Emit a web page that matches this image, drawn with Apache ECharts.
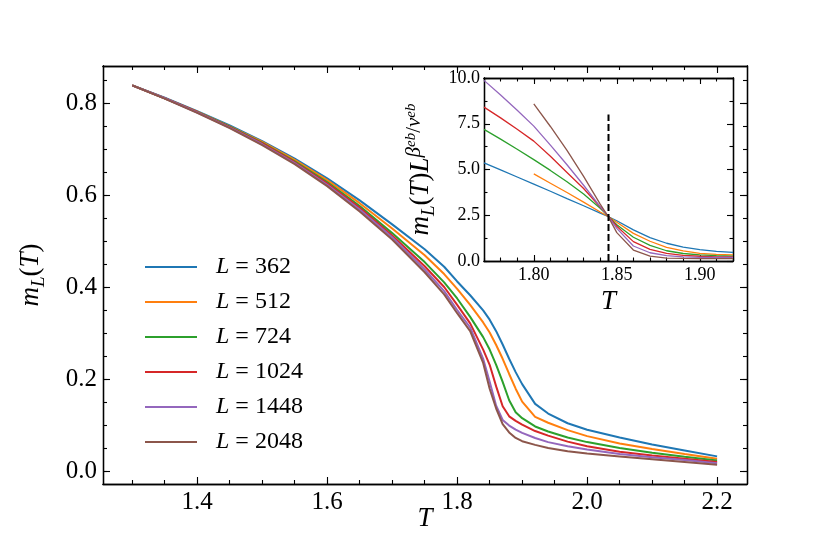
<!DOCTYPE html>
<html>
<head>
<meta charset="utf-8">
<script src="https://cdn.jsdelivr.net/npm/echarts@6/dist/echarts.min.js"></script>
<style>
html, body { margin: 0; padding: 0; background: #fff; }
#main { width: 830px; height: 554px; }
</style>
</head>
<body>
<div id="main"></div>
<script>
// main panel: m_L(T) for each lattice size
var temps = [1.30, 1.35, 1.40, 1.45, 1.50, 1.55, 1.60, 1.65, 1.70, 1.75, 1.78, 1.80, 1.82, 1.84,
             1.85, 1.86, 1.87, 1.88, 1.89, 1.90, 1.92, 1.94, 1.97, 2.00, 2.05, 2.10, 2.15, 2.20];
var m362  = [0.839, 0.812, 0.783, 0.752, 0.718, 0.680, 0.637, 0.589, 0.537, 0.483, 0.445, 0.413, 0.383, 0.350,
             0.330, 0.305, 0.276, 0.245, 0.216, 0.190, 0.147, 0.126, 0.105, 0.091, 0.074, 0.059, 0.046, 0.033];
var m512  = [0.839, 0.811, 0.782, 0.750, 0.716, 0.677, 0.633, 0.583, 0.528, 0.470, 0.429, 0.397, 0.362, 0.324,
             0.302, 0.275, 0.245, 0.212, 0.180, 0.152, 0.119, 0.106, 0.090, 0.077, 0.061, 0.049, 0.038, 0.028];
var m724  = [0.839, 0.811, 0.781, 0.749, 0.714, 0.674, 0.629, 0.577, 0.518, 0.455, 0.411, 0.376, 0.336, 0.292,
             0.265, 0.232, 0.195, 0.155, 0.129, 0.116, 0.098, 0.087, 0.074, 0.064, 0.051, 0.041, 0.032, 0.024];
var m1024 = [0.839, 0.811, 0.781, 0.748, 0.713, 0.672, 0.626, 0.573, 0.513, 0.446, 0.401, 0.362, 0.322, 0.265,
             0.232, 0.185, 0.142, 0.120, 0.110, 0.102, 0.088, 0.078, 0.065, 0.055, 0.043, 0.035, 0.028, 0.021];
var m1448 = [0.839, 0.811, 0.780, 0.747, 0.711, 0.670, 0.623, 0.569, 0.509, 0.439, 0.392, 0.351, 0.313, 0.245,
             0.195, 0.143, 0.112, 0.100, 0.091, 0.084, 0.073, 0.064, 0.055, 0.048, 0.038, 0.031, 0.025, 0.018];
var m2048 = [0.839, 0.810, 0.779, 0.746, 0.709, 0.668, 0.620, 0.565, 0.504, 0.433, 0.385, 0.344, 0.305, 0.236,
             0.180, 0.137, 0.103, 0.085, 0.073, 0.066, 0.058, 0.051, 0.044, 0.039, 0.033, 0.027, 0.021, 0.015];

// inset: scaled magnetisation near the crossing
var insetT = [1.77, 1.78, 1.79, 1.80, 1.81, 1.82, 1.83, 1.84, 1.845, 1.85, 1.86, 1.87, 1.88, 1.89, 1.90, 1.91, 1.92];
var s362  = [5.36, 4.98, 4.59, 4.20, 3.81, 3.41, 3.02, 2.62, 2.42, 2.20, 1.70, 1.28, 0.97, 0.76, 0.62, 0.53, 0.47];
var s512  = [null, null, null, 4.76, 4.25, 3.74, 3.22, 2.68, 2.42, 2.12, 1.51, 1.08, 0.75, 0.55, 0.42, 0.36, 0.33];
var s724  = [7.19, 6.66, 6.11, 5.54, 4.95, 4.33, 3.66, 2.88, 2.43, 1.98, 1.30, 0.85, 0.56, 0.41, 0.33, 0.29, 0.27];
var s1024 = [8.41, 7.82, 7.20, 6.55, 5.72, 4.84, 3.96, 2.95, 2.43, 1.90, 1.06, 0.64, 0.42, 0.31, 0.26, 0.23, 0.22];
var s1448 = [9.87, 9.07, 8.24, 7.37, 6.33, 5.26, 4.14, 2.97, 2.43, 1.78, 0.82, 0.45, 0.29, 0.23, 0.20, 0.20, 0.19];
var s2048 = [null, null, null, 8.59, 7.35, 6.04, 4.62, 3.11, 2.40, 1.55, 0.60, 0.27, 0.16, 0.14, 0.13, 0.13, 0.13];
var tcT = 1.845;
var tcRange = [0, 8];

var sizes = ['362', '512', '724', '1024', '1448', '2048'];
var mainVals = [m362, m512, m724, m1024, m1448, m2048];
var insetVals = [s362, s512, s724, s1024, s1448, s2048];
var colors = ['#1f77b4', '#ff7f0e', '#2ca02c', '#d62728', '#9467bd', '#8c564b'];

// tick positions
var mainXMajor = [1.4, 1.6, 1.8, 2.0, 2.2];
var mainXMinor = [1.3, 1.35, 1.4, 1.45, 1.5, 1.55, 1.6, 1.65, 1.7, 1.75, 1.8, 1.85, 1.9, 1.95, 2.0, 2.05, 2.1, 2.15, 2.2];
var mainYMajor = [0.0, 0.2, 0.4, 0.6, 0.8];
var mainYMinor = [0, 0.05, 0.1, 0.15, 0.2, 0.25, 0.3, 0.35, 0.4, 0.45, 0.5, 0.55, 0.6, 0.65, 0.7, 0.75, 0.8, 0.85];
var insetXMajor = [1.80, 1.85, 1.90];
var insetXMinor = [1.77, 1.78, 1.79, 1.80, 1.81, 1.82, 1.83, 1.84, 1.85, 1.86, 1.87, 1.88, 1.89, 1.90, 1.91, 1.92];
var insetYMajor = [0, 2.5, 5, 7.5, 10];
var insetYMinor = [0, 1.25, 2.5, 3.75, 5, 6.25, 7.5, 8.75, 10];

var SERIF = "'Liberation Serif', 'DejaVu Serif', serif";

function axis(o) {
    return {
        type: 'value', gridIndex: o.grid, position: o.pos, min: o.min, max: o.max,
        axisLine: { show: true, onZero: false, lineStyle: { color: '#000', width: 1.3 } },
        axisTick: { show: true, inside: true, length: o.len, customValues: o.ticks,
                    lineStyle: { color: '#000', width: 1.1 } },
        axisLabel: o.fs ? { show: true, customValues: o.ticks, margin: o.margin, color: '#000',
                            fontFamily: SERIF, fontSize: o.fs,
                            formatter: function (v) { return v.toFixed(o.dec); } }
                        : { show: false },
        splitLine: { show: false },
        minorTick: { show: false },
        name: o.name || '', nameLocation: 'middle', nameGap: o.gap || 0, nameMoveOverlap: false,
        nameTextStyle: o.nameStyle || {}
    };
}

var labelRich = {
    i:  { fontFamily: SERIF, fontStyle: 'italic', fontSize: 27, lineHeight: 34, verticalAlign: 'middle', color: '#000' },
    n:  { fontFamily: SERIF, fontSize: 27, lineHeight: 34, verticalAlign: 'middle', color: '#000' },
    s:  { fontFamily: SERIF, fontStyle: 'italic', fontSize: 19, lineHeight: 18, verticalAlign: 'bottom', color: '#000' },
    p:  { fontFamily: SERIF, fontStyle: 'italic', fontSize: 21, lineHeight: 18, verticalAlign: 'top', color: '#000' },
    pn: { fontFamily: SERIF, fontSize: 21, lineHeight: 18, verticalAlign: 'top', color: '#000' },
    ps: { fontFamily: SERIF, fontStyle: 'italic', fontSize: 15, lineHeight: 30, verticalAlign: 'top', color: '#000' }
};

var xAxes = [
    axis({ grid: 0, pos: 'bottom', min: 1.255, max: 2.246, len: 7, ticks: mainXMajor, fs: 25, dec: 1, margin: 6,
           name: '{i|T}', gap: 18, nameStyle: { rich: labelRich } }),
    axis({ grid: 0, pos: 'bottom', min: 1.255, max: 2.246, len: 4, ticks: mainXMinor }),
    axis({ grid: 0, pos: 'top', min: 1.255, max: 2.246, len: 7, ticks: mainXMajor }),
    axis({ grid: 0, pos: 'top', min: 1.255, max: 2.246, len: 4, ticks: mainXMinor }),
    axis({ grid: 1, pos: 'bottom', min: 1.77, max: 1.92, len: 6, ticks: insetXMajor, fs: 18, dec: 2, margin: 5,
           name: '{i|T}', gap: 24, nameStyle: { rich: labelRich } }),
    axis({ grid: 1, pos: 'bottom', min: 1.77, max: 1.92, len: 3.5, ticks: insetXMinor }),
    axis({ grid: 1, pos: 'top', min: 1.77, max: 1.92, len: 6, ticks: insetXMajor }),
    axis({ grid: 1, pos: 'top', min: 1.77, max: 1.92, len: 3.5, ticks: insetXMinor })
];
var yAxes = [
    axis({ grid: 0, pos: 'left', min: -0.027, max: 0.881, len: 7, ticks: mainYMajor, fs: 25, dec: 1, margin: 6,
           name: '{i|m}{s|L}{n|(}{i|T}{n|)}', gap: 55, nameStyle: { rich: labelRich } }),
    axis({ grid: 0, pos: 'left', min: -0.027, max: 0.881, len: 4, ticks: mainYMinor }),
    axis({ grid: 0, pos: 'right', min: -0.027, max: 0.881, len: 7, ticks: mainYMajor }),
    axis({ grid: 0, pos: 'right', min: -0.027, max: 0.881, len: 4, ticks: mainYMinor }),
    axis({ grid: 1, pos: 'left', min: 0, max: 10, len: 6, ticks: insetYMajor, fs: 18, dec: 1, margin: 4,
           name: '{i|m}{s|L}{n|(}{i|T}{n|)}{i|L}{p|β}{ps|eb}{pn|/}{p|ν}{ps|eb}', gap: 46,
           nameStyle: { rich: labelRich } }),
    axis({ grid: 1, pos: 'left', min: 0, max: 10, len: 3.5, ticks: insetYMinor }),
    axis({ grid: 1, pos: 'right', min: 0, max: 10, len: 6, ticks: insetYMajor }),
    axis({ grid: 1, pos: 'right', min: 0, max: 10, len: 3.5, ticks: insetYMinor })
];

var series = [];
var legendNames = [];
sizes.forEach(function (L, k) {
    var name = 'L = ' + L;
    legendNames.push(name);
    series.push({
        name: name, type: 'line', xAxisIndex: 0, yAxisIndex: 0,
        data: temps.map(function (t, i) { return [t, mainVals[k][i]]; }),
        symbol: 'none', showSymbol: false,
        lineStyle: { color: colors[k], width: 2 }, itemStyle: { color: colors[k] }
    });
});
sizes.forEach(function (L, k) {
    series.push({
        name: 'inset ' + L, type: 'line', xAxisIndex: 4, yAxisIndex: 4,
        data: insetT.map(function (t, i) { return [t, insetVals[k][i]]; }),
        symbol: 'none', showSymbol: false, connectNulls: false,
        lineStyle: { color: colors[k], width: 1.3 }, itemStyle: { color: colors[k] }
    });
});
series.push({
    name: 'Tc', type: 'line', xAxisIndex: 4, yAxisIndex: 4,
    data: tcRange.map(function (v) { return [tcT, v]; }),
    symbol: 'none', lineStyle: { color: '#000', width: 2, type: [7, 3] }, z: 5
});

var chart = echarts.init(document.getElementById('main'), null, { renderer: 'canvas' });
chart.setOption({
    animation: false,
    backgroundColor: '#fff',
    grid: [
        { left: 103, top: 66, width: 644, height: 418, outerBoundsMode: 'none', containLabel: false },
        { left: 484, top: 78, width: 249, height: 183, outerBoundsMode: 'none', containLabel: false,
          show: true, backgroundColor: '#fff', borderWidth: 0 }
    ],
    legend: {
        data: legendNames, orient: 'vertical', left: 145, top: 254, padding: 0,
        icon: 'rect', itemWidth: 52, itemHeight: 2, itemGap: 9,
        formatter: function (n) { return '{i|L} = ' + n.slice(4); },
        textStyle: {
            fontFamily: SERIF, fontSize: 24, color: '#000', lineHeight: 26, padding: [0, 0, 0, 14],
            rich: { i: { fontFamily: SERIF, fontStyle: 'italic', fontSize: 24, lineHeight: 26, color: '#000' } }
        }
    },
    xAxis: xAxes,
    yAxis: yAxes,
    series: series
});
</script>
</body>
</html>
